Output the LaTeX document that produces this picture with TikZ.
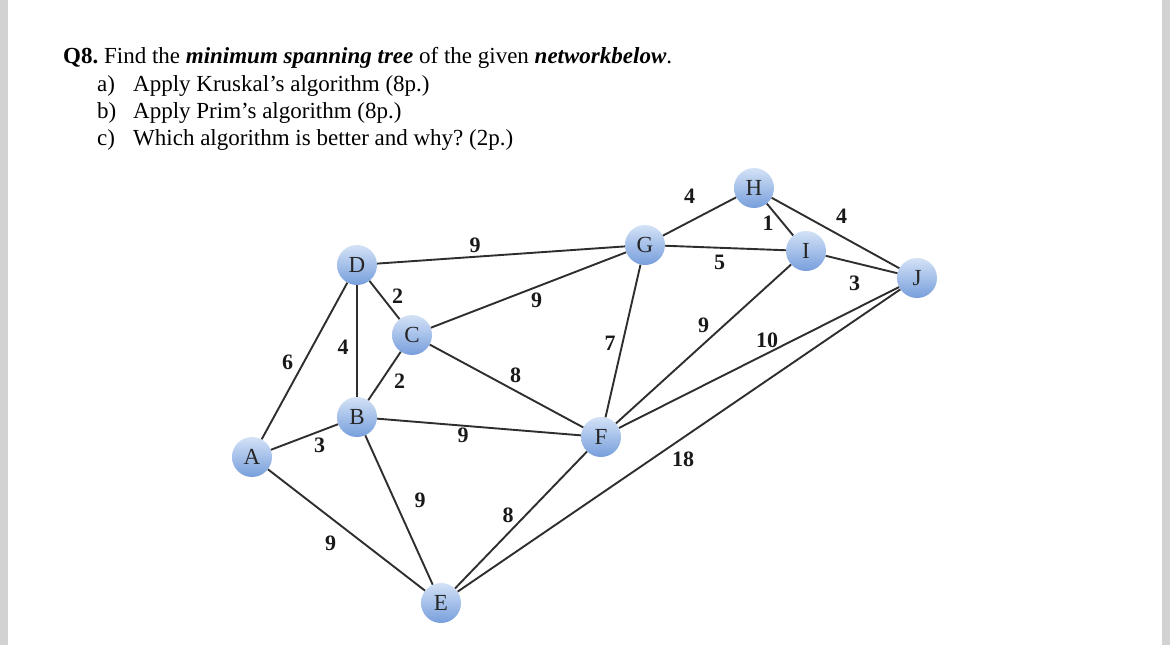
\documentclass[tikz,border=0pt]{standalone}
\usepackage{fontspec}
\setmainfont{Liberation Serif}
\usetikzlibrary{positioning}
\frenchspacing
\definecolor{vtop}{HTML}{D3E2F6}
\definecolor{vbot}{HTML}{779EDC}
\definecolor{linkgray}{HTML}{2E2E2E}
\definecolor{margingray}{HTML}{D2D2D2}
\tikzstyle{vert}=[circle,minimum size=40pt,inner sep=0pt,top color=vtop,bottom color=vbot,text=black!85,font=\fontsize{23}{23}\selectfont]
\tikzstyle{link}=[draw=linkgray,line width=1.9pt]
\tikzstyle{wt}=[inner sep=1pt,text=black!90,font=\fontsize{22}{22}\selectfont\bfseries]
\tikzstyle{txt}=[anchor=base west,inner sep=0pt,font=\fontsize{23}{27}\selectfont]

\begin{document}
\begin{tikzpicture}[x=1pt,y=-1pt]
\useasboundingbox (0,0) rectangle (1170,645);
\fill[margingray] (0,0) rectangle (8,645);
\fill[margingray] (1162,0) rectangle (1170,645);
% question
\node[txt] (q) at (63,63) {\textbf{Q8.} Find the \textbf{\textit{minimum spanning tree}} of the given \textbf{\textit{networkbelow}}.};
\node[txt] (qa) at (97,91) {a)};
\node[txt] (ta) at (133,91) {Apply Kruskal’s algorithm (8p.)};
\node[txt] (qb) at (97,118) {b)};
\node[txt] (tb) at (133,118) {Apply Prim’s algorithm (8p.)};
\node[txt] (qc) at (97,145) {c)};
\node[txt] (tc) at (133,145) {Which algorithm is better and why? (2p.)};
% vertices
\node[vert] (A) at (252,457) {A};
\node[vert] (B) at (357,417) {B};
\node[vert] (C) at (412,335) {C};
\node[vert] (D) at (357,265) {D};
\node[vert] (E) at (441,603) {E};
\node[vert] (F) at (601,437) {F};
\node[vert] (G) at (645,245) {G};
\node[vert] (H) at (754,188) {H};
\node[vert] (I) at (806,251) {I};
\node[vert] (J) at (917,278) {J};
% weighted edges
\draw[link] (A) -- node[wt,xshift=-17pt,yshift=-1pt] {6} (D);
\draw[link] (A) -- node[wt,xshift=15pt,yshift=-8pt] {3} (B);
\draw[link] (A) -- node[wt,xshift=-16pt,yshift=-13pt] {9} (E);
\draw[link] (D) -- node[wt,xshift=-14pt,yshift=-6pt] {4} (B);
\draw[link] (D) -- node[wt,xshift=13pt,yshift=4pt] {2} (C);
\draw[link] (C) -- node[wt,xshift=15pt,yshift=-5pt] {2} (B);
\draw[link] (D) -- node[wt,xshift=-26pt,yshift=10pt] {9} (G);
\draw[link] (C) -- node[wt,xshift=8pt,yshift=-10pt] {9} (G);
\draw[link] (C) -- node[wt,xshift=9pt,yshift=11pt] {8} (F);
\draw[link] (B) -- node[wt,xshift=-16pt,yshift=-8pt] {9} (F);
\draw[link] (B) -- node[wt,xshift=21pt,yshift=10pt] {9} (E);
\draw[link] (F) -- node[wt,xshift=-13pt,yshift=5pt] {8} (E);
\draw[link] (G) -- node[wt,xshift=-13pt,yshift=-2pt] {7} (F);
\draw[link] (G) -- node[wt,xshift=-10pt,yshift=20pt] {4} (H);
\draw[link] (G) -- node[wt,xshift=-6pt,yshift=-14pt] {5} (I);
\draw[link] (H) -- node[wt,xshift=-12pt,yshift=-4pt] {1} (I);
\draw[link] (H) -- node[wt,xshift=6pt,yshift=17pt] {4} (J);
\draw[link] (I) -- node[wt,xshift=-7pt,yshift=-19pt] {3} (J);
\draw[link] (I) -- node[wt,yshift=19pt] {9} (F);
\draw[link] (J) -- node[wt,xshift=8pt,yshift=17pt] {10} (F);
\draw[link] (J) -- node[wt,xshift=4pt,yshift=-19pt] {18} (E);
\end{tikzpicture}
\end{document}
